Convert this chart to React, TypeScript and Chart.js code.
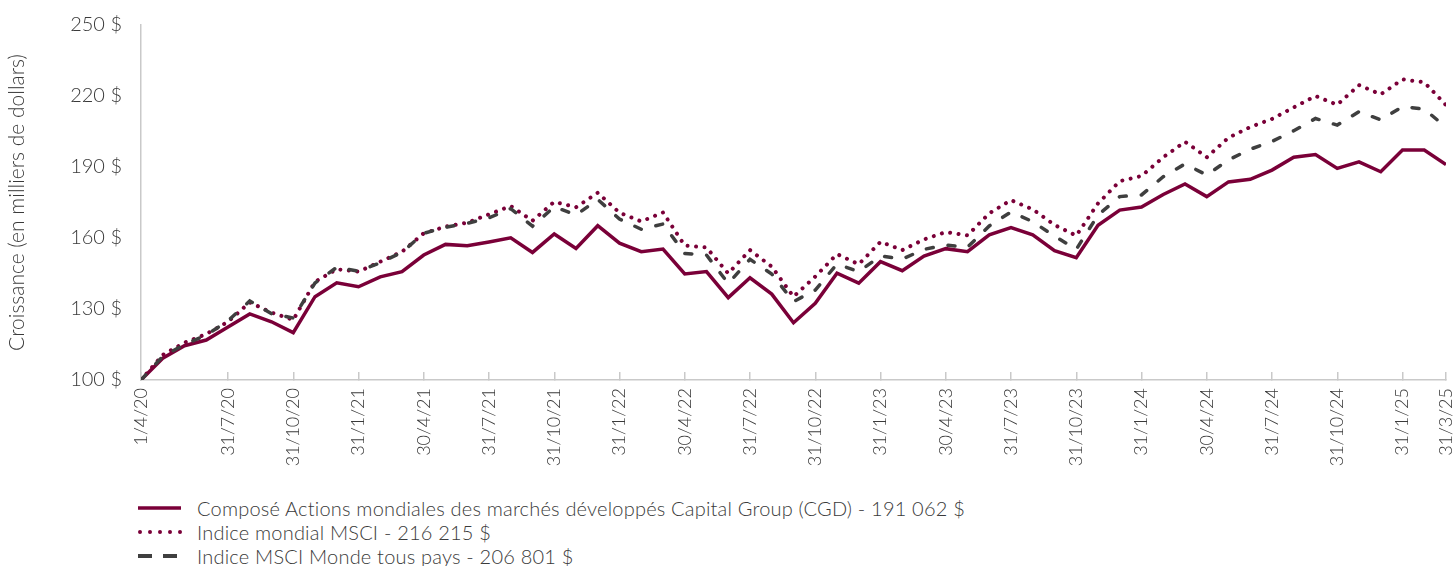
import React, { useEffect, useRef } from "react";
import { Chart, registerables } from "chart.js";

Chart.register(...registerables);

// Tick labels on the x axis (month-end dates) and their month index (0 = 1/4/20)
const tickIndices = [0, 4, 7, 10, 13, 16, 19, 22, 25, 28, 31, 34, 37, 40, 43, 46, 49, 52, 55, 58, 60];
const tickLabels = [
  "1/4/20", "31/7/20", "31/10/20", "31/1/21", "30/4/21", "31/7/21", "31/10/21",
  "31/1/22", "30/4/22", "31/7/22", "31/10/22", "31/1/23", "30/4/23", "31/7/23",
  "31/10/23", "31/1/24", "30/4/24", "31/7/24", "31/10/24", "31/1/25", "31/3/25",
];

// Growth of 100 000 $ (thousands of dollars), monthly from 1/4/20 to 31/3/25
const cgdValues = [
  100, 109.2, 114.5, 116.9, 122.4, 127.9, 124.6, 120.0, 135.2, 141.1,
  139.4, 143.6, 145.8, 152.8, 157.3, 156.7, 158.3, 160.1, 153.9, 161.7,
  155.6, 165.2, 157.8, 154.2, 155.3, 144.8, 145.8, 134.8, 143.2, 136.3,
  124.2, 132.4, 145.1, 140.9, 150.0, 146.2, 152.4, 155.5, 154.2, 161.3,
  164.4, 161.3, 154.6, 151.7, 165.4, 171.8, 173.1, 178.4, 182.8, 177.5,
  183.7, 184.8, 188.7, 194.1, 195.3, 189.4, 192.2, 188.0, 197.2, 197.2,
  191.06,
];
const msciWorldValues = [
  100, 110.6, 115.8, 119.4, 124.6, 132.8, 128.5, 125.4, 141.5, 146.8,
  145.8, 150.0, 154.2, 162.0, 164.8, 166.5, 170.0, 173.5, 167.3, 175.3,
  173.0, 179.1, 170.7, 167.0, 170.8, 156.8, 156.0, 145.0, 154.9, 147.9,
  135.2, 143.7, 153.2, 148.9, 158.4, 154.9, 159.4, 162.5, 161.1, 170.4,
  176.0, 172.1, 165.5, 161.0, 174.6, 184.0, 186.2, 194.1, 200.7, 194.1,
  202.4, 206.9, 210.3, 215.2, 220.0, 216.3, 224.6, 220.7, 227.0, 225.8,
  216.2,
];
const msciAcwiValues = [
  100, 110, 115, 119, 125, 133.4, 128, 126.2, 141, 147.6,
  146, 149.5, 154, 162, 164.5, 166.2, 168.5, 172.4, 165, 173.2,
  169.7, 176.3, 168, 163.7, 165.9, 153.5, 152.8, 140.8, 151, 144.8,
  133.1, 138, 149, 145.8, 152.4, 151.1, 155.2, 157, 156.1, 165.1,
  171, 166.9, 160.8, 155.2, 169.7, 177.5, 178.2, 185.9, 191.3, 186.6,
  193, 197.5, 200.8, 205.3, 210.5, 207.7, 213.4, 209.9, 215.5, 214.5,
  206.8,
];

const seriesNames = [
  "Composé Actions mondiales des marchés développés Capital Group (CGD) - 191 062 $",
  "Indice mondial MSCI - 216 215 $",
  "Indice MSCI Monde tous pays - 206 801 $",
];
const yTitle = "Croissance (en milliers de dollars)";

const MAROON = "#7a0038";
const DARK = "#3f3f3f";
const AXIS = "#c9c9c9";
const TEXT = "#3a3a3a";
const FONT = "Lato, 'Open Sans', sans-serif";

const toXY = (arr: number[]) => arr.map((v, i) => ({ x: i, y: v }));

export default function App() {
  const ref = useRef<HTMLCanvasElement | null>(null);

  useEffect(() => {
    document.body.style.margin = "0";
    const canvas = ref.current;
    if (!canvas) return;
    const chart = new Chart(canvas, {
      type: "line",
      data: {
        datasets: [
          {
            label: seriesNames[2],
            data: toXY(msciAcwiValues),
            borderColor: DARK,
            borderWidth: 3.5,
            borderDash: [7, 15],
            borderCapStyle: "round",
            pointRadius: 0,
            tension: 0,
          },
          {
            label: seriesNames[1],
            data: toXY(msciWorldValues),
            borderColor: MAROON,
            borderWidth: 4,
            borderDash: [0.01, 8.5],
            borderCapStyle: "round",
            pointRadius: 0,
            tension: 0,
          },
          {
            label: seriesNames[0],
            data: toXY(cgdValues),
            borderColor: MAROON,
            borderWidth: 3.5,
            borderJoinStyle: "miter",
            pointRadius: 0,
            tension: 0,
          },
        ],
      },
      options: {
        animation: false,
        responsive: false,
        devicePixelRatio: 1,
        layout: { padding: { top: 25, right: 10, bottom: 0, left: 0 } },
        plugins: {
          legend: { display: false },
          tooltip: { enabled: false },
        },
        scales: {
          x: {
            type: "linear",
            min: 0,
            max: 60,
            afterBuildTicks: (scale: any) => {
              scale.ticks = tickIndices.map((v) => ({ value: v }));
            },
            afterFit: (scale: any) => {
              scale.height = 90;
              scale.paddingLeft = 0;
              scale.paddingRight = 0;
            },
            grid: {
              drawOnChartArea: false,
              drawTicks: true,
              tickLength: -8,
              color: AXIS,
              lineWidth: 1.5,
            },
            border: { display: true, color: AXIS, width: 1.5 },
            ticks: {
              autoSkip: false,
              minRotation: 90,
              maxRotation: 90,
              padding: 16,
              color: TEXT,
              font: { family: FONT, size: 18, weight: "300" },
              callback: (value: any) => {
                const k = tickIndices.indexOf(Number(value));
                return k >= 0 ? tickLabels[k] : "";
              },
            },
          },
          y: {
            min: 100,
            max: 250,
            afterFit: (scale: any) => {
              scale.width = 141;
              scale.paddingTop = 0;
              scale.paddingBottom = 0;
            },
            grid: { display: false, drawTicks: false },
            border: { display: true, color: AXIS, width: 1.5 },
            ticks: {
              stepSize: 30,
              padding: 19,
              color: TEXT,
              font: { family: FONT, size: 20, weight: "300" },
              callback: (value: any) => `${value} $`,
            },
            title: {
              display: true,
              text: yTitle,
              color: TEXT,
              font: { family: FONT, size: 21, weight: "300" },
              padding: { top: 5, bottom: 0 },
            },
          },
        },
      },
    });
    return () => chart.destroy();
  }, []);

  const legendRow = (i: number, sample: React.ReactNode) => (
    <div key={i} style={{ display: "flex", alignItems: "center", height: 24 }}>
      <svg width={44} height={10} style={{ flex: "none" }}>
        {sample}
      </svg>
      <span style={{ marginLeft: 15, whiteSpace: "nowrap" }}>{seriesNames[i]}</span>
    </div>
  );

  return (
    <div style={{ position: "relative", width: 1456, height: 566, overflow: "hidden" }}>
      <canvas ref={ref} width={1456} height={470} style={{ position: "absolute", left: 0, top: 0 }} />
      <div
        style={{
          position: "absolute",
          left: 138,
          top: 496,
          fontFamily: FONT,
          fontSize: 20,
          fontWeight: 300,
          letterSpacing: "0.2px",
          color: TEXT,
        }}
      >
        {legendRow(0, <line x1={0} y1={5} x2={43} y2={5} stroke={MAROON} strokeWidth={3.5} />)}
        {legendRow(
          1,
          <line x1={2} y1={5} x2={43} y2={5} stroke={MAROON} strokeWidth={4} strokeLinecap="round" strokeDasharray="0 10" />
        )}
        {legendRow(
          2,
          <line x1={0} y1={5} x2={43} y2={5} stroke={DARK} strokeWidth={4} strokeDasharray="14 11" />
        )}
      </div>
    </div>
  );
}
